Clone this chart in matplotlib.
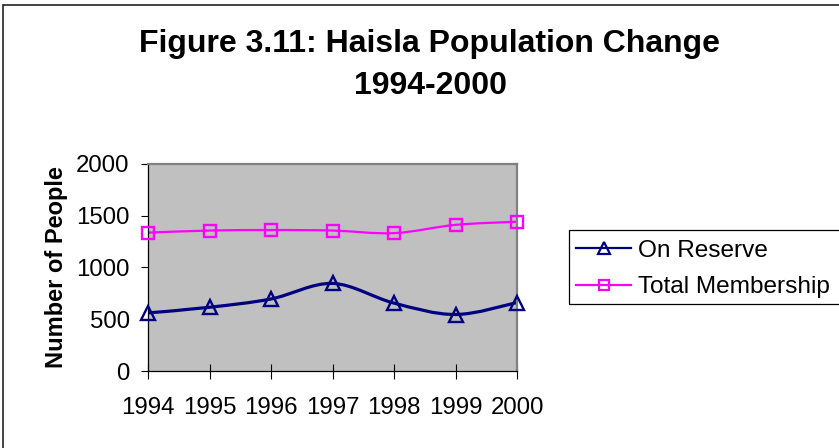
import matplotlib
matplotlib.use("Agg")
import matplotlib.pyplot as plt
from matplotlib.path import Path
from matplotlib.patches import PathPatch, Rectangle
from matplotlib.lines import Line2D

# data
years = [1994, 1995, 1996, 1997, 1998, 1999, 2000]
on_reserve = [560, 615, 695, 845, 655, 545, 660]
total_membership = [1335, 1355, 1360, 1355, 1330, 1410, 1440]
series_names = ["On Reserve", "Total Membership"]
y_ticks = [0, 500, 1000, 1500, 2000]

NAVY = "#000080"
MAGENTA = "#FF00FF"

plt.rcParams["font.family"] = ["Liberation Sans", "DejaVu Sans"]

W, H = 839, 448


def smooth_path(x, y):
    """Excel-like smoothed line: cubic bezier through the points."""
    pts = list(zip(x, y))
    n = len(pts)
    verts = [pts[0]]
    codes = [Path.MOVETO]
    for i in range(n - 1):
        p0 = pts[i - 1] if i > 0 else pts[i]
        p1 = pts[i]
        p2 = pts[i + 1]
        p3 = pts[i + 2] if i + 2 < n else pts[i + 1]
        c1 = (p1[0] + (p2[0] - p0[0]) / 6.0, p1[1] + (p2[1] - p0[1]) / 6.0)
        c2 = (p2[0] - (p3[0] - p1[0]) / 6.0, p2[1] - (p3[1] - p1[1]) / 6.0)
        verts += [c1, c2, p2]
        codes += [Path.CURVE4] * 3
    return Path(verts, codes)


fig = plt.figure(figsize=(W / 100, H / 100), dpi=100)
ax = fig.add_axes([148 / W, 1 - 371 / H, (517 - 148) / W, (371 - 163.7) / H])
ax.set_facecolor("#C0C0C0")

for vals, col, lw in [(on_reserve, NAVY, 2.3), (total_membership, MAGENTA, 1.6)]:
    ax.add_patch(PathPatch(smooth_path(years, vals), fill=False, edgecolor=col,
                           lw=lw, zorder=2, capstyle="round"))

ax.plot(years, on_reserve, ls="none", marker="^", ms=9.5, mfc="none",
        mec=NAVY, mew=1.7, zorder=3, clip_on=False)
ax.plot(years, total_membership, ls="none", marker="s", ms=9, mfc="none",
        mec=MAGENTA, mew=1.7, zorder=3, clip_on=False)

ax.set_xlim(years[0], years[-1])
ax.set_ylim(y_ticks[0], y_ticks[-1])
ax.set_xticks(years)
ax.set_yticks(y_ticks)
ax.tick_params(axis="x", direction="inout", length=10.8, width=0.8, pad=13,
               labelsize=17.3, colors="black")
ax.tick_params(axis="y", direction="out", length=4.7, width=0.8, pad=8.5,
               labelsize=17.3, colors="black")

for s in ["top", "right"]:
    ax.spines[s].set_color("#808080")
    ax.spines[s].set_linewidth(1.6)
for s in ["left", "bottom"]:
    ax.spines[s].set_color("black")
    ax.spines[s].set_linewidth(0.9)

ax.set_ylabel("Number of People", fontsize=17, fontweight="bold", labelpad=6)

fig.text(429 / W, 1 - 52 / H, "Figure 3.11: Haisla Population Change",
         ha="center", va="baseline", fontsize=23, fontweight="bold")
fig.text(430 / W, 1 - 94 / H, "1994-2000",
         ha="center", va="baseline", fontsize=23, fontweight="bold")

handles = [
    Line2D([], [], color=NAVY, lw=1.6, marker="^", ms=8, mfc="none", mec=NAVY, mew=1.6),
    Line2D([], [], color=MAGENTA, lw=1.6, marker="s", ms=7.5, mfc="none", mec=MAGENTA, mew=1.6),
]
fig.legend(handles, series_names, loc="center left",
           bbox_to_anchor=(576 / W, 1 - 269 / H), frameon=False,
           fontsize=17.6, handlelength=2.25, handletextpad=0.3,
           labelspacing=0.6, borderpad=0, borderaxespad=0)

# legend frame (right edge runs past the image)
fig.patches.append(Rectangle((569 / W, 1 - 304 / H), (860 - 569) / W, 74 / H,
                             transform=fig.transFigure, fill=False,
                             edgecolor="black", lw=0.9))
# outer chart border (cropped at right and bottom)
fig.patches.append(Rectangle((3 / W, -0.05), 1.1, 1 - 5 / H + 0.05,
                             transform=fig.transFigure, fill=False,
                             edgecolor="#222222", lw=1.2))

fig.savefig("out.png", dpi=100)
